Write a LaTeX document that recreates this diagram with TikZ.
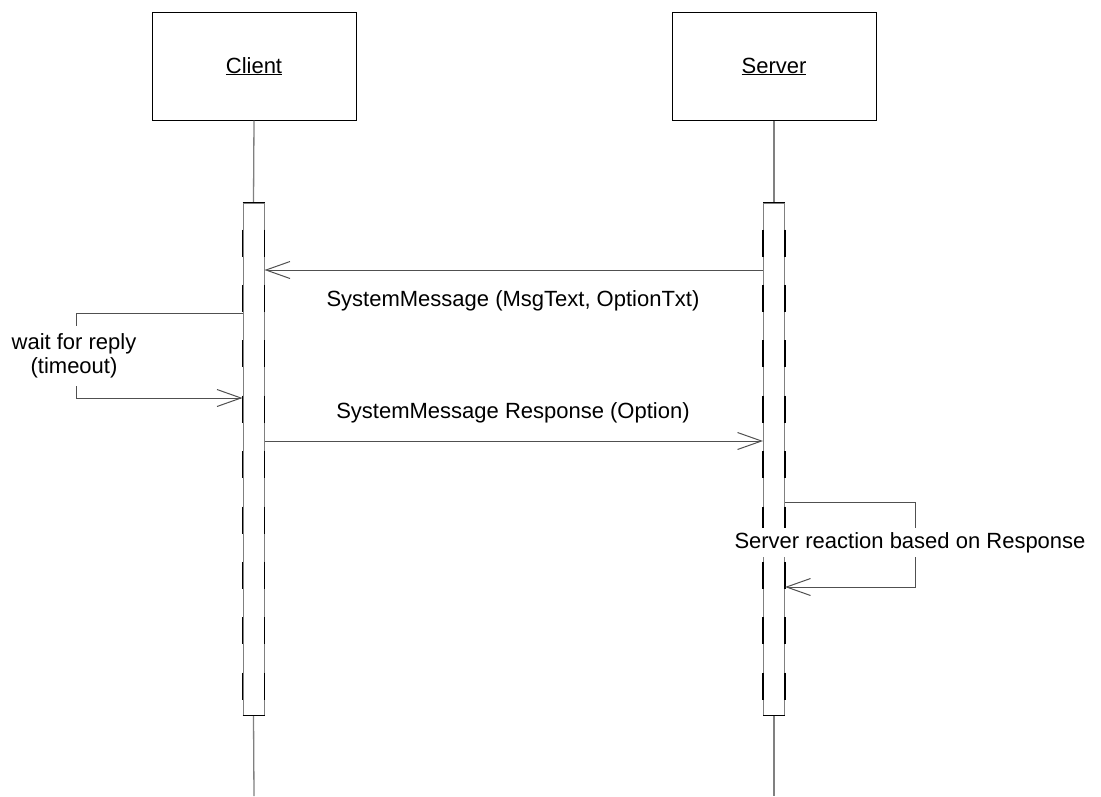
\documentclass[tikz,border=0pt]{standalone}
\usepackage{fontspec}
\setmainfont{Liberation Sans}
\usetikzlibrary{arrows.meta}
\definecolor{lifegray}{HTML}{808080}
\definecolor{msggray}{HTML}{505050}
\tikzset{
  x=1pt, y=-1pt,
  every node/.style={font=\fontsize{22}{24}\selectfont},
  objbox/.style={draw=black, line width=1pt, fill=white, minimum width=204pt, minimum height=108pt, inner sep=0pt},
  actbar/.style={draw=lifegray, line width=1pt, fill=white, minimum width=21pt, minimum height=512pt, inner sep=0pt},
  barcap/.style={draw=black, line width=1pt},
  bardash/.style={draw=black, line width=1.1pt, dash pattern=on 27pt off 28.4pt, dash phase=28.4pt},
  lifeline/.style={draw=lifegray, line width=1.3pt},
  msg/.style={draw=msggray, line width=1pt, -{Straight Barb[length=24pt, width=17pt, line width=1pt]}},
  msglabel/.style={anchor=base, inner sep=0pt},
  notelabel/.style={fill=white, inner xsep=2pt, inner ysep=8pt, align=center}
}
\begin{document}
\begin{tikzpicture}
\useasboundingbox (0,0) rectangle (1101,796);

% objects
\node[objbox] (client) at (254,66) {};
\node[objbox] (server) at (774,66) {};
\node[msglabel] (clientname) at (254,73) {\underline{Client}};
\node[msglabel] (servername) at (774,73) {\underline{Server}};

% lifeline ends
\coordinate (cend) at (254,796);
\coordinate (send) at (774,796);

% activation bars
\node[actbar] (cbar) at (253.5,459) {};
\node[actbar] (sbar) at (774,459) {};

\draw[lifeline] (client.south) -- (cbar.north);
\draw[lifeline] (cbar.south) -- (cend);
\draw[lifeline] (server.south) -- (sbar.north);
\draw[lifeline] (sbar.south) -- (send);

\foreach \b in {cbar,sbar}{
  \draw[barcap] (\b.north west) -- (\b.north east);
  \draw[barcap] (\b.south west) -- (\b.south east);
  \draw[bardash] (\b.north west) -- (\b.south west);
  \draw[bardash] (\b.north east) -- (\b.south east);
}

% message rows
\coordinate (m1) at (0,270);
\coordinate (w1) at (0,313);
\coordinate (w2) at (0,398);
\coordinate (m2) at (0,441);
\coordinate (r1) at (0,502);
\coordinate (r2) at (0,587);
\coordinate (wx) at (76,0);
\coordinate (rx) at (915,0);

% server -> client
\draw[msg] (sbar.west |- m1) -- (cbar.east |- m1);
\node[msglabel] (l1) at (513,306) {SystemMessage (MsgText, OptionTxt)};

% client waits
\draw[msg] (cbar.west |- w1) -- (wx |- w1) -- (wx |- w2) -- (cbar.west |- w2);
\node[notelabel] (wait) at (74,356) {wait for reply\\(timeout)};

% client -> server
\draw[msg] (cbar.east |- m2) -- (sbar.west |- m2);
\node[msglabel] (l2) at (513,418) {SystemMessage Response (Option)};

% server reacts
\draw[msg] (sbar.east |- r1) -- (rx |- r1) -- (rx |- r2) -- (sbar.east |- r2);
\node[fill=white, anchor=base, inner xsep=1pt, inner ysep=4pt] (react) at (910,548) {Server reaction based on Response};
\end{tikzpicture}
\end{document}
